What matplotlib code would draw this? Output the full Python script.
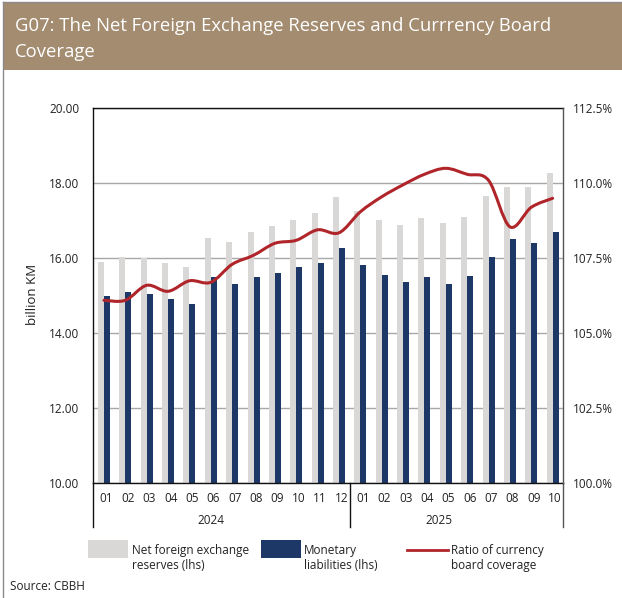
import numpy as np
import matplotlib
matplotlib.use("Agg")
import matplotlib.pyplot as plt
from matplotlib.path import Path
from matplotlib.patches import PathPatch, Rectangle
from matplotlib.lines import Line2D
import matplotlib.ticker as mticker

plt.rcParams['font.family'] = ['Open Sans', 'DejaVu Sans']

months = ["01", "02", "03", "04", "05", "06", "07", "08", "09", "10", "11", "12",
          "01", "02", "03", "04", "05", "06", "07", "08", "09", "10"]
years = ["2024", "2025"]
reserves = [15.90, 16.03, 16.02, 15.87, 15.77, 16.55, 16.44, 16.69, 16.87, 17.03, 17.21, 17.64,
            17.25, 17.02, 16.90, 17.07, 16.93, 17.11, 17.66, 17.91, 17.91, 18.27]
liabilities = [14.99, 15.09, 15.04, 14.92, 14.77, 15.51, 15.32, 15.51, 15.62, 15.76, 15.87, 16.28,
               15.82, 15.55, 15.37, 15.49, 15.32, 15.52, 16.04, 16.51, 16.40, 16.69]
coverage = [106.1, 106.1, 106.6, 106.4, 106.75, 106.7, 107.3, 107.6, 108.0, 108.1, 108.45, 108.35,
            109.05, 109.55, 109.95, 110.3, 110.5, 110.3, 110.1, 108.55, 109.2, 109.5]

GRAY = "#D9D8D6"
NAVY = "#1D3867"
RED = "#B0252A"
BAND = "#A38C70"
TXT = "#222222"

fig = plt.figure(figsize=(6.22, 5.98), dpi=100)
W, H = 622, 598

def fx(px):
    return px / W

def fy(py):
    return 1 - py / H

# title band
fig.patches.append(Rectangle((fx(3), fy(70)), 1 - fx(3), fy(3) - fy(70), transform=fig.transFigure,
                             facecolor=BAND, edgecolor="none", zorder=0))
fig.lines.append(Line2D([fx(3), fx(3)], [0, fy(2)], transform=fig.transFigure, color="#8a8a8a", lw=1))
fig.lines.append(Line2D([fx(3), 1], [fy(2), fy(2)], transform=fig.transFigure, color="#8a8a8a", lw=1))
fig.text(fx(15), fy(26), "G07: The Net Foreign Exchange Reserves and Currrency Board",
         color="white", fontsize=13.3, va="center", ha="left")
fig.text(fx(15), fy(52), "Coverage", color="white", fontsize=13.3, va="center", ha="left")

left, right, top, bottom = 93.3, 563.3, 108.3, 483.3
ax = fig.add_axes([fx(left), fy(bottom), fx(right) - fx(left), fy(top) - fy(bottom)])
ax2 = ax.twinx()

x = np.arange(len(months))
bw = 0.28
ax.bar(x - bw / 2, reserves, width=bw, color=GRAY, zorder=2)
ax.bar(x + bw / 2, liabilities, width=bw, color=NAVY, zorder=2)
ax.set_ylim(10, 20)
ax.set_xlim(-0.5, len(months) - 0.5)
ax.set_yticks(np.arange(10, 20.01, 2))
ax.yaxis.set_major_formatter(mticker.FormatStrFormatter("%.2f"))
ax.grid(axis="y", color="#a8a8a8", lw=1, zorder=1)
ax.set_axisbelow(True)
ax.tick_params(axis="y", length=0, pad=10, labelsize=8.5, labelcolor=TXT)
ax.set_xticks(x + 0.12)
ax.set_xticklabels(months)
ax.tick_params(axis="x", length=0, pad=6, labelsize=8.5, labelcolor=TXT)

fig.text(fx(32), fy(294), "billion KM", fontsize=9.5, color=TXT, rotation=90,
         ha="center", va="center")

for s in ["left", "top", "bottom"]:
    ax.spines[s].set_color("#111111")
    ax.spines[s].set_linewidth(1)
ax.spines["right"].set_visible(False)

# smoothed ratio line (Excel-style smoothing through the data points)
xs = x.astype(float)
ys = np.array(coverage)
verts = [(xs[0], ys[0])]
codes = [Path.MOVETO]
n = len(xs)
for i in range(n - 1):
    p0 = (xs[max(i - 1, 0)], ys[max(i - 1, 0)])
    p1 = (xs[i], ys[i])
    p2 = (xs[i + 1], ys[i + 1])
    p3 = (xs[min(i + 2, n - 1)], ys[min(i + 2, n - 1)])
    c1 = (p1[0] + (p2[0] - p0[0]) / 6, p1[1] + (p2[1] - p0[1]) / 6)
    c2 = (p2[0] - (p3[0] - p1[0]) / 6, p2[1] - (p3[1] - p1[1]) / 6)
    verts += [c1, c2, p2]
    codes += [Path.CURVE4] * 3
ax2.add_patch(PathPatch(Path(verts, codes), fill=False, edgecolor=RED, lw=2.2, zorder=5,
                        capstyle="round", joinstyle="round"))
ax2.set_ylim(100, 112.5)
ax2.set_yticks(np.arange(100, 112.51, 2.5))
ax2.yaxis.set_major_formatter(mticker.FormatStrFormatter("%.1f%%"))
ax2.tick_params(axis="y", length=0, pad=7, labelsize=8.5, labelcolor=TXT)
for s in ["left", "top", "bottom"]:
    ax2.spines[s].set_visible(False)
ax2.spines["right"].set_color("#555555")
ax2.spines["right"].set_linewidth(1)

# year separators and labels
blend = ax.get_xaxis_transform()
for xv in [-0.5, 11.5, len(months) - 0.5]:
    ax.add_line(Line2D([xv, xv], [0, -(527 - bottom) / (bottom - top)], transform=blend,
                       color="#111111" if xv < 21 else "#555555", lw=1, clip_on=False))
ax.text(5.0, -(521 - bottom) / (bottom - top), years[0], transform=blend, ha="center",
        va="center", fontsize=8.5, color=TXT)
ax.text(15.7, -(521 - bottom) / (bottom - top), years[1], transform=blend, ha="center",
        va="center", fontsize=8.5, color=TXT)

# legend
fig.patches.append(Rectangle((fx(88), fy(557.7)), fx(40), fy(540) - fy(557.7), transform=fig.transFigure,
                             facecolor=GRAY, edgecolor="none"))
fig.text(fx(131.5), fy(558), "Net foreign exchange\nreserves (lhs)", fontsize=8.5, color=TXT,
         va="center", ha="left", linespacing=1.25)
fig.patches.append(Rectangle((fx(261), fy(557.7)), fx(39.7), fy(540) - fy(557.7), transform=fig.transFigure,
                             facecolor=NAVY, edgecolor="none"))
fig.text(fx(304), fy(558), "Monetary\nliabilities (lhs)", fontsize=8.5, color=TXT,
         va="center", ha="left", linespacing=1.25)
fig.lines.append(Line2D([fx(407), fx(447.7)], [fy(549.5), fy(549.5)], transform=fig.transFigure,
                        color=RED, lw=2))
fig.text(fx(451), fy(558), "Ratio of currency\nboard coverage", fontsize=8.5, color=TXT,
         va="center", ha="left", linespacing=1.25)

fig.text(fx(10), fy(586), "Source: CBBH", fontsize=8.5, color=TXT, va="center", ha="left")

fig.savefig("out.png", dpi=100)
